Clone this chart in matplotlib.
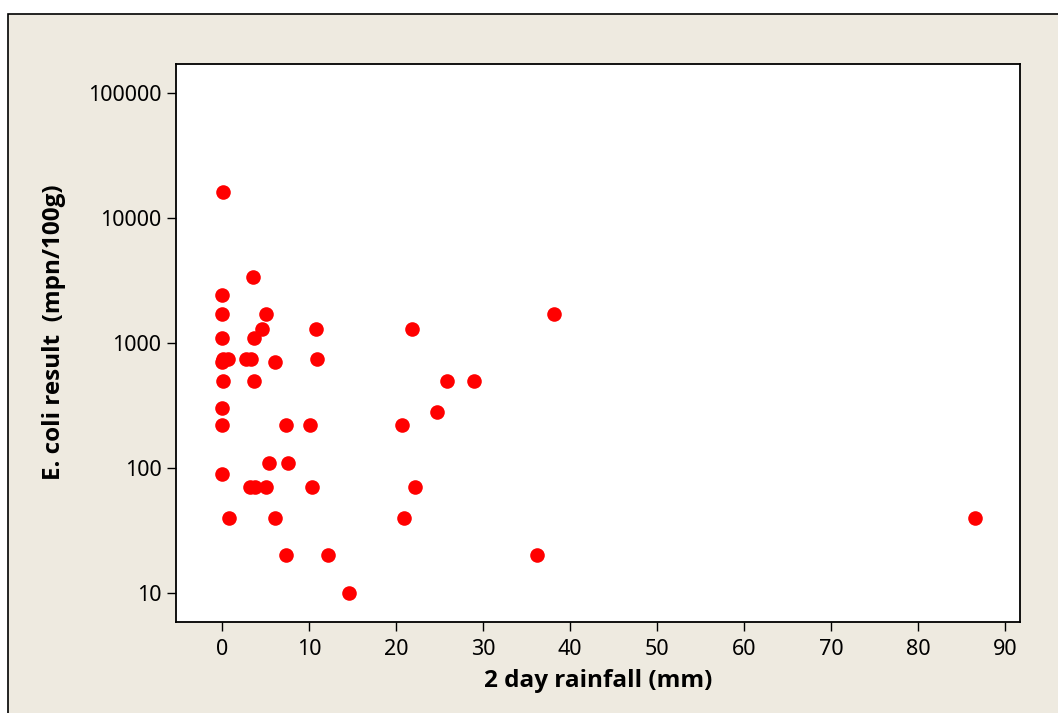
import numpy as np
import matplotlib.pyplot as plt
from matplotlib.patches import Rectangle

# 2 day rainfall (mm) and E. coli result (mpn/100g)
rainfall = [0.15, 3.5, 0.0, 0.0, 5.0, 4.6, 10.75, 21.8, 38.1,
            0.0, 3.7, 0.15, 0.7, 2.7, 3.3, 10.95, 0.0, 6.05,
            0.15, 3.7, 25.8, 29.0, 0.0, 24.7, 0.0, 7.3, 10.1, 20.7,
            5.4, 7.55, 0.0, 3.2, 3.8, 5.0, 10.3, 22.2,
            0.75, 6.1, 20.9, 86.5, 7.3, 12.2, 36.2, 14.6]
ecoli = [16000, 3400, 2400, 1700, 1700, 1300, 1300, 1300, 1700,
         1100, 1100, 750, 750, 750, 750, 750, 700, 700,
         500, 500, 500, 500, 300, 280, 220, 220, 220, 220,
         110, 110, 90, 70, 70, 70, 70, 70,
         40, 40, 40, 40, 20, 20, 20, 10]

xticks = [0, 10, 20, 30, 40, 50, 60, 70, 80, 90]
yticks = [10, 100, 1000, 10000, 100000]
ytick_labels = ['10', '100', '1000', '10000', '100000']

W, H = 1058, 713
plt.rcParams['font.family'] = ['Noto Sans', 'DejaVu Sans']

fig = plt.figure(figsize=(W / 100, H / 100), dpi=100, facecolor='white')
# beige panel with a black frame, behind the axes
fig.patches.append(Rectangle((8 / W, -0.1), 1.2, 1 - 14 / H + 0.1,
                             transform=fig.transFigure, facecolor='#EEEAE0',
                             edgecolor='black', linewidth=1.2, zorder=-10))

ax = fig.add_axes([176 / W, (H - 622) / H, (1020 - 176) / W, (622 - 64) / H])
ax.set_facecolor('white')
ax.plot(rainfall, ecoli, 'o', color='#FF0000', markersize=10.5,
        markeredgewidth=0, clip_on=False)

ax.set_yscale('log')
ax.set_xlim(-5.3, 91.7)
ax.set_ylim(10 ** 0.768, 10 ** 5.232)
ax.set_xticks(xticks)
ax.set_yticks(yticks)
ax.set_yticklabels(ytick_labels)
ax.minorticks_off()
ax.tick_params(axis='both', direction='out', length=6.5, width=1,
               labelsize=15.5, colors='black', top=False, right=False)
ax.tick_params(axis='x', pad=6)
ax.tick_params(axis='y', pad=4)
for s in ax.spines.values():
    s.set_linewidth(1.3)

lab_font = dict(family=['Open Sans', 'DejaVu Sans'], fontweight='bold', fontsize=17.5)
ax.set_xlabel('2 day rainfall (mm)', **lab_font)
ax.set_ylabel('E. coli result  (mpn/100g)', **lab_font)
ax.yaxis.set_label_coords((66 - 176) / (1020 - 176), 0.52)
ax.xaxis.set_label_coords(0.5, -(669 - 622) / (622 - 64))

fig.savefig('out.png', dpi=100, facecolor=fig.get_facecolor())
